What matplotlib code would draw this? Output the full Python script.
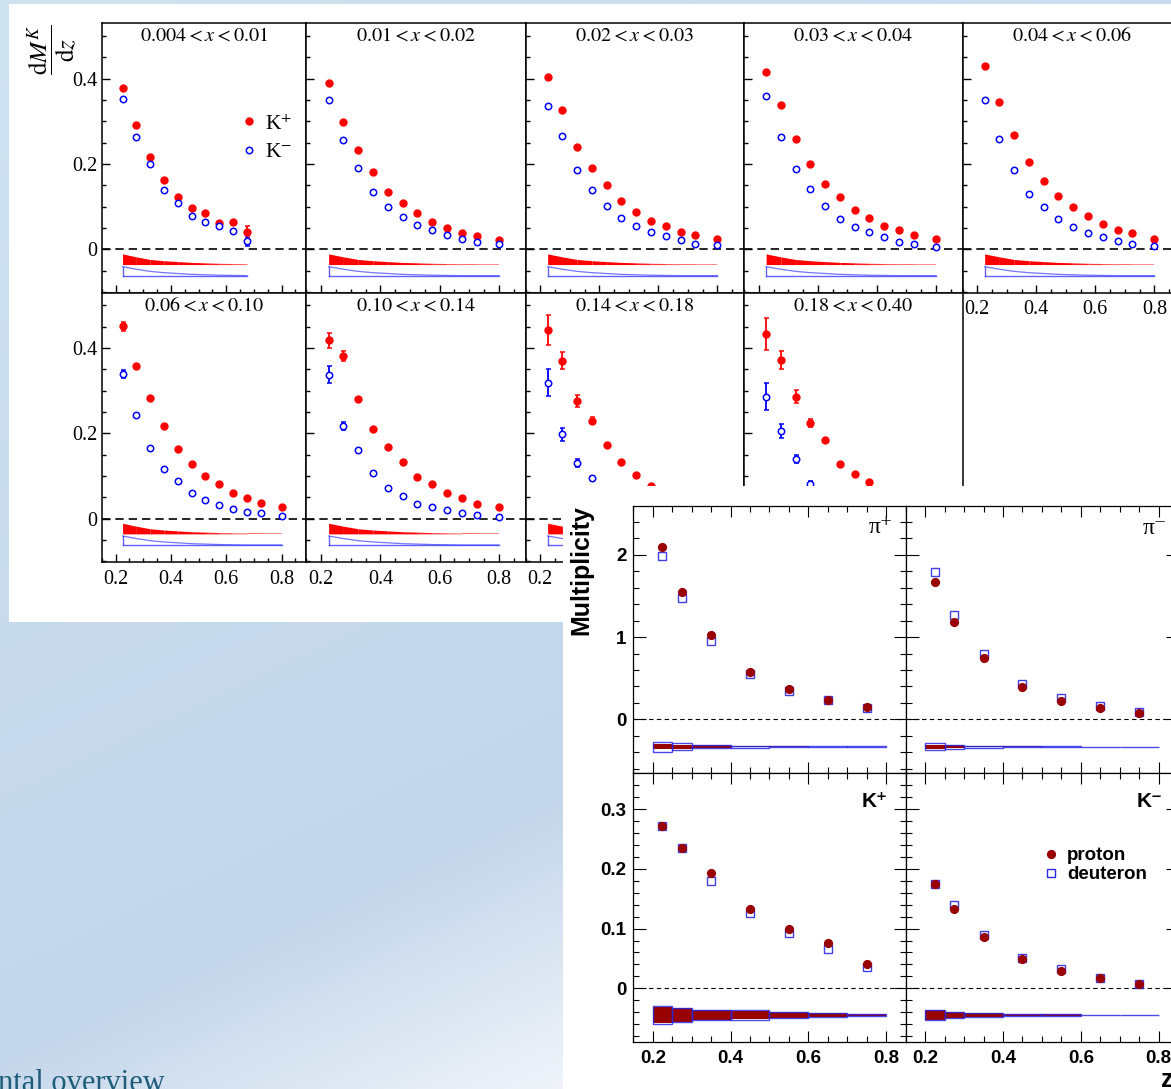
import numpy as np
import matplotlib
matplotlib.use("Agg")
import matplotlib.pyplot as plt
from matplotlib.patches import Rectangle
from matplotlib.ticker import MultipleLocator
from matplotlib.lines import Line2D

W, H = 1171, 1089
plt.rcParams['mathtext.fontset'] = 'stix'
SERIF = ['Liberation Serif', 'DejaVu Serif']
SANS = ['Liberation Sans', 'DejaVu Sans']

# ---------------- left figure: K+ / K- multiplicities vs z in x bins ----------------
z_points = [0.225, 0.275, 0.325, 0.375, 0.425, 0.475, 0.525, 0.575, 0.625, 0.675, 0.725, 0.80]
x_bins = [r"$0.004<x<0.01$", r"$0.01<x<0.02$", r"$0.02<x<0.03$", r"$0.03<x<0.04$",
          r"$0.04<x<0.06$", r"$0.06<x<0.10$", r"$0.10<x<0.14$", r"$0.14<x<0.18$",
          r"$0.18<x<0.40$"]
kplus = [
    [0.379, 0.292, 0.216, 0.163, 0.123, 0.096, 0.084, 0.061, 0.063, 0.041],
    [0.391, 0.298, 0.233, 0.182, 0.135, 0.108, 0.084, 0.065, 0.049, 0.038, 0.032, 0.022],
    [0.403, 0.327, 0.240, 0.191, 0.150, 0.113, 0.088, 0.067, 0.054, 0.041, 0.034, 0.023],
    [0.415, 0.338, 0.259, 0.200, 0.152, 0.122, 0.091, 0.073, 0.055, 0.044, 0.034, 0.023],
    [0.429, 0.345, 0.269, 0.205, 0.160, 0.124, 0.098, 0.077, 0.059, 0.044, 0.038, 0.025],
    [0.451, 0.357, 0.282, 0.216, 0.164, 0.129, 0.100, 0.082, 0.060, 0.048, 0.036, 0.026],
    [0.418, 0.381, 0.280, 0.209, 0.168, 0.133, 0.098, 0.080, 0.060, 0.048, 0.035, 0.026],
    [0.443, 0.370, 0.275, 0.230, 0.172, 0.133, 0.102, 0.077],
    [0.433, 0.372, 0.286, 0.224, 0.184, 0.128, 0.104, 0.085],
]
kminus = [
    [0.352, 0.264, 0.200, 0.138, 0.108, 0.079, 0.063, 0.055, 0.043, 0.020],
    [0.350, 0.256, 0.190, 0.135, 0.098, 0.075, 0.057, 0.044, 0.034, 0.024, 0.018, 0.012],
    [0.336, 0.265, 0.187, 0.138, 0.101, 0.073, 0.055, 0.040, 0.030, 0.021, 0.013, 0.009],
    [0.360, 0.263, 0.188, 0.141, 0.102, 0.072, 0.052, 0.040, 0.028, 0.018, 0.013, 0.006],
    [0.350, 0.258, 0.186, 0.130, 0.098, 0.070, 0.053, 0.039, 0.028, 0.019, 0.013, 0.007],
    [0.339, 0.244, 0.166, 0.116, 0.089, 0.061, 0.044, 0.031, 0.023, 0.016, 0.012, 0.005],
    [0.338, 0.217, 0.161, 0.107, 0.072, 0.053, 0.035, 0.027, 0.020, 0.012, 0.009, 0.003],
    [0.319, 0.198, 0.130, 0.094],
    [0.286, 0.205, 0.140, 0.082],
]
# statistical errors (only the visible ones, rest padded with 0)
kplus_err = [
    [0, 0, 0, 0, 0, 0, 0, 0, 0.004, 0.014],
    [], [], [], [],
    [0.010],
    [0.017, 0.012],
    [0.035, 0.020, 0.014, 0.009],
    [0.038, 0.022, 0.015, 0.010, 0.005],
]
kminus_err = [
    [0, 0, 0, 0, 0, 0, 0, 0, 0, 0.012],
    [], [], [], [],
    [0.010],
    [0.020, 0.010],
    [0.031, 0.015, 0.010, 0.005],
    [0.031, 0.017, 0.009, 0.005],
]
# systematic bands drawn below zero
kplus_sys = [0.025, 0.018, 0.012, 0.009, 0.007, 0.005, 0.004, 0.003, 0.0025, 0.002, 0.002, 0.002]
kminus_sys = [0.022, 0.016, 0.011, 0.008, 0.006, 0.004, 0.003, 0.002, 0.0015, 0.001, 0.001, 0.001]
band_points = [10, 12, 12, 12, 12, 12, 12, 12, 12]
fig1_xticks = [0.2, 0.4, 0.6, 0.8]
fig1_xticklabels = ["0.2", "0.4", "0.6", "0.8"]
fig1_yticks = [0, 0.2, 0.4]
fig1_yticklabels = ["0", "0.2", "0.4"]

# ---------------- right figure: proton / deuteron multiplicities ----------------
z2 = [0.225, 0.275, 0.35, 0.45, 0.55, 0.65, 0.75]
z2_edges = [0.2, 0.25, 0.3, 0.4, 0.5, 0.6, 0.7, 0.8]
hadrons = ["π⁺", "π⁻", "K⁺", "K⁻"]
proton = [
    [2.092, 1.545, 1.026, 0.580, 0.365, 0.239, 0.146],
    [1.671, 1.188, 0.742, 0.397, 0.227, 0.134, 0.081],
    [0.271, 0.235, 0.193, 0.133, 0.099, 0.0765, 0.041],
    [0.175, 0.133, 0.0866, 0.049, 0.0285, 0.0168, 0.0073],
]
deuteron = [
    [1.987, 1.472, 0.957, 0.551, 0.341, 0.231, 0.134],
    [1.796, 1.269, 0.795, 0.426, 0.255, 0.162, 0.085],
    [0.272, 0.235, 0.179, 0.126, 0.093, 0.066, 0.035],
    [0.175, 0.139, 0.090, 0.050, 0.032, 0.018, 0.0078],
]
proton_sys = [
    [0.032, 0.026, 0.016, 0.010, 0.008, 0.002, 0.001],
    [0.024, 0.016, 0.010, 0.003, 0.002, 0.001, 0.001],
    [0.014, 0.011, 0.0085, 0.0075, 0.0048, 0.0032, 0.0015],
    [0.008, 0.005, 0.0032, 0.002, 0.0015, 0.0, 0.0],
]
deuteron_sys = [
    [0.060, 0.040, 0.020, 0.012, 0.009, 0.004, 0.003],
    [0.043, 0.026, 0.012, 0.004, 0.003, 0.002, 0.002],
    [0.0146, 0.0116, 0.009, 0.008, 0.0052, 0.0036, 0.0018],
    [0.0085, 0.0055, 0.0036, 0.0024, 0.0018, 0.0008, 0.0005],
]
fig2_xticks = [0.2, 0.4, 0.6, 0.8]
fig2_xticklabels = ["0.2", "0.4", "0.6", "0.8"]
fig2_yticks = [[0, 1, 2], [0, 0.1, 0.2, 0.3]]
fig2_yticklabels = [["0", "1", "2"], ["0", "0.1", "0.2", "0.3"]]


def rect(x0, y0, x1, y1):
    # pixel box (top-left origin) -> figure fraction
    return [x0 / W, 1 - y1 / H, (x1 - x0) / W, (y1 - y0) / H]


fig = plt.figure(figsize=(W / 100, H / 100), dpi=100)

# slide background gradient
bg = fig.add_axes([0, 0, 1, 1], zorder=0)
bg.axis('off')
yy, xx = np.mgrid[0:H, 0:W]
t = yy + 0.47 * xx
stops = [0, 1060, 1420]
img = np.dstack([np.interp(t, stops, [208, 196, 250]),
                 np.interp(t, stops, [227, 214, 251]),
                 np.interp(t, stops, [241, 234, 253])]) / 255.0
bg.imshow(img, extent=[0, W, H, 0], aspect='auto')
bg.set_xlim(0, W)
bg.set_ylim(H, 0)

fig.text(-2 / W, 1 - 1091 / H, "ntal overview", family=SERIF, fontsize=22,
         color='#1d5d7a', va='baseline', ha='left', zorder=1)

# white sheet of the left figure
r1 = rect(9, 4, W + 5, 622)
fig.add_artist(Rectangle(r1[:2], r1[2], r1[3], transform=fig.transFigure,
                         facecolor='white', edgecolor='none', zorder=1))

col_edges = [101.8, 306.4, 525.5, 744.0, 962.5, 1181.0]
row_edges = [23.3, 292.7, 562.0]

for i in range(9):
    r, c = divmod(i, 5)
    ax = fig.add_axes(rect(col_edges[c], row_edges[r], col_edges[c + 1], row_edges[r + 1]), zorder=2)
    ax.set_xlim(0.15, 0.89)
    ax.set_ylim(-0.102, 0.53)
    for s in ax.spines.values():
        s.set_linewidth(1.1)
    ax.set_xticks(fig1_xticks, fig1_xticklabels, family=SERIF, fontsize=14.5)
    ax.set_yticks(fig1_yticks, fig1_yticklabels, family=SERIF, fontsize=14.5)
    ax.xaxis.set_minor_locator(MultipleLocator(0.05))
    ax.yaxis.set_minor_locator(MultipleLocator(0.05))
    ax.tick_params(which='both', direction='in', width=1.0)
    ax.tick_params(which='major', length=5.5)
    ax.tick_params(which='minor', length=3)
    ax.tick_params(axis='x', pad=5.5)
    ax.tick_params(axis='y', pad=3)
    if c != 0:
        ax.tick_params(labelleft=False)
    if r == 0 and c != 4:
        ax.tick_params(labelbottom=False)

    ax.axhline(0, color='black', lw=1.2, ls=(0, (5, 3)))

    # systematic bands
    nb = band_points[i]
    zb = np.array(z_points[:nb])
    sp = np.array(kplus_sys[:nb])
    sm = np.array(kminus_sys[:nb])
    for k in range(nb - 1):
        f = min(1.0, max(0.0, (k - 5) / 5.0))
        col = (1.0, 0.55 * f, 0.55 * f)
        ax.fill_between(zb[k:k + 2], -0.036, -0.036 + sp[k:k + 2], color=col, lw=0)
    ax.plot(zb, -0.063 + sm, color='#3a3aff', lw=0.9, alpha=0.7)
    ax.plot(zb, np.full(nb, -0.063), color='#3a3aff', lw=1.0, alpha=0.8)
    ax.plot([zb[0], zb[0]], [-0.063, -0.063 + sm[0]], color='#3a3aff', lw=1.0, alpha=0.8)

    # data points
    yp = kplus[i]
    ym = kminus[i]
    ep = kplus_err[i] + [0] * (len(yp) - len(kplus_err[i]))
    em = kminus_err[i] + [0] * (len(ym) - len(kminus_err[i]))
    ax.errorbar(z_points[:len(yp)], yp, yerr=ep, fmt='o', ms=5, color='#ff0000',
                elinewidth=1.3, capsize=1.8, capthick=1.1, zorder=3)
    ax.errorbar(z_points[:len(ym)], ym, yerr=em, fmt='o', ms=4.6, mfc='white', mec='#0000ff',
                mew=1.1, color='#0000ff', elinewidth=1.3, capsize=1.8, capthick=1.1, zorder=3)

    ax.text(0.5, 0.955, x_bins[i], transform=ax.transAxes, ha='center', va='center', fontsize=14.5)

    if i == 0:
        handles = [Line2D([], [], ls='none', marker='o', ms=5, color='#ff0000'),
                   Line2D([], [], ls='none', marker='o', ms=4.6, mfc='white', mec='#0000ff', mew=1.1)]
        ax.legend(handles, ["K⁺", "K⁻"], loc='upper left', bbox_to_anchor=(0.665, 0.665),
                  frameon=False, handlelength=1.0, handletextpad=0.3, labelspacing=0.4,
                  borderpad=0, borderaxespad=0, prop={'family': SERIF, 'size': 15.5})

fig.text(52 / W, 1 - 50 / H, r"$\dfrac{\mathrm{d}M^{K}}{\mathrm{d}z}$", rotation=90,
         ha='center', va='center', fontsize=18, zorder=2)

# white sheet of the right figure
r2 = rect(563, 486, W + 5, H + 5)
fig.add_artist(Rectangle(r2[:2], r2[2], r2[3], transform=fig.transFigure,
                         facecolor='white', edgecolor='none', zorder=3))

cols2 = [633.3, 905.7, 1178.1]
rows2 = [506.0, 773.3, 1041.7]
ylims2 = [(-0.657, 2.595), (-0.0894, 0.36)]
yminor2 = [0.2, 0.02]
band_level = [-0.333, -0.0447]
label_pos = [(0.953, 0.92), (0.958, 0.915), (0.934, 0.895), (0.945, 0.895)]
widths = np.diff(z2_edges)

for i in range(4):
    r, c = divmod(i, 2)
    ax = fig.add_axes(rect(cols2[c], rows2[r], cols2[c + 1], rows2[r + 1]), zorder=4)
    ax.set_xlim(0.15, 0.85)
    ax.set_ylim(*ylims2[r])
    for s in ax.spines.values():
        s.set_linewidth(0.9)
    ax.set_xticks(fig2_xticks, fig2_xticklabels, family=SANS, fontweight='bold', fontsize=13.5)
    ax.set_yticks(fig2_yticks[r], fig2_yticklabels[r], family=SANS, fontweight='bold', fontsize=13.5)
    ax.xaxis.set_minor_locator(MultipleLocator(0.05))
    ax.yaxis.set_minor_locator(MultipleLocator(yminor2[r]))
    ax.tick_params(which='both', direction='in', top=True, right=True, width=0.8)
    ax.tick_params(axis='x', which='major', length=8, pad=6)
    ax.tick_params(axis='x', which='minor', length=4.5)
    ax.tick_params(axis='y', which='major', length=9, pad=5)
    ax.tick_params(axis='y', which='minor', length=4)
    if c != 0:
        ax.tick_params(labelleft=False)
    if r == 0:
        ax.tick_params(labelbottom=False)

    ax.axhline(0, color='black', lw=0.8, ls=(0, (4, 3)))

    base = band_level[r]
    ps = np.array(proton_sys[i])
    ds = np.array(deuteron_sys[i])
    ax.bar(z2_edges[:-1], 2 * ps, width=widths, bottom=base - ps, align='edge',
           color='#990000', edgecolor='none')
    ax.bar(z2_edges[:-1], 2 * ds, width=widths, bottom=base - ds, align='edge',
           fill=False, edgecolor='#2a2ae0', lw=1.0, alpha=0.85)

    ax.plot(z2, deuteron[i], ls='none', marker='s', ms=5.8, mfc='none', mec='#2a2ae0',
            mew=1.0, alpha=0.9)
    ax.plot(z2, proton[i], ls='none', marker='o', ms=5.6, color='#990000')

    if i < 2:
        ax.text(*label_pos[i], hadrons[i], transform=ax.transAxes, ha='right', va='center',
                fontsize=17, family=SERIF)
    else:
        ax.text(*label_pos[i], hadrons[i], transform=ax.transAxes, ha='right', va='center',
                fontsize=15, family=SANS, fontweight='bold')

    if i == 3:
        handles = [Line2D([], [], ls='none', marker='o', ms=5.6, color='#990000'),
                   Line2D([], [], ls='none', marker='s', ms=5.8, mfc='none', mec='#2a2ae0', mew=1.0)]
        ax.legend(handles, ["proton", "deuteron"], loc='upper left', bbox_to_anchor=(0.5, 0.725),
                  frameon=False, handlelength=1.0, handletextpad=0.35, labelspacing=0.1,
                  borderpad=0, borderaxespad=0,
                  prop={'family': SANS, 'weight': 'bold', 'size': 13.5})

fig.text(581 / W, 1 - 570 / H, "Multiplicity", rotation=90, ha='center', va='center',
         family=SANS, fontweight='bold', fontsize=18, zorder=5)
fig.text(1167 / W, 1 - 1080 / H, "z", ha='center', va='center',
         family=SANS, fontweight='bold', fontsize=18, zorder=5)

fig.savefig("out.png", dpi=100)
